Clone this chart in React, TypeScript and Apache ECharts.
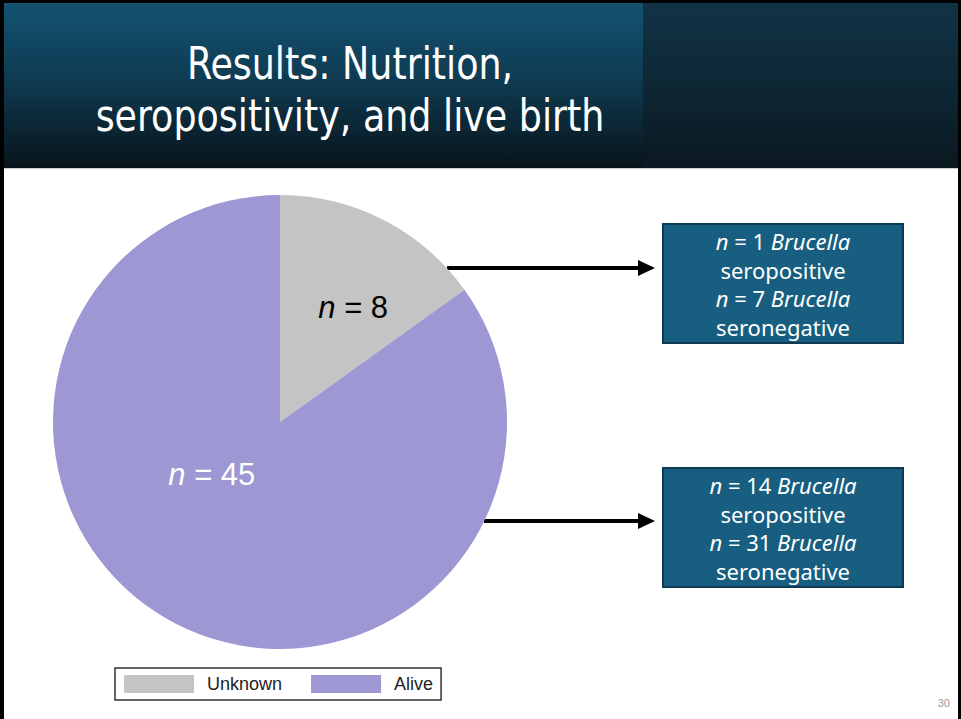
import React, { useEffect, useRef } from "react";
import * as echarts from "echarts";

const categories = ["Unknown", "Alive"];
const counts = [8, 45];
const sliceColors = ["#c4c4c4", "#9d97d4"];
const labelColors = ["#000000", "#ffffff"];
const seropositive = [1, 14];
const seronegative = [7, 31];
const titleLines = ["Results: Nutrition,", "seropositivity, and live birth"];
const pageNumber = "30";

const boxTops = [224, 468];

export default function App() {
  const ref = useRef<HTMLDivElement>(null);
  useEffect(() => {
    const chart = echarts.init(ref.current!, null, { renderer: "svg" });
    const boxFont = "'Noto Sans', 'Open Sans', sans-serif";
    const graphics: any[] = [
      // slide frame
      { type: "rect", shape: { x: 0, y: 0, width: 961, height: 3 }, style: { fill: "#000" } },
      { type: "rect", shape: { x: 0, y: 0, width: 4, height: 719 }, style: { fill: "#000" } },
      { type: "rect", shape: { x: 958, y: 0, width: 3, height: 719 }, style: { fill: "#000" } },
      // header
      {
        type: "rect",
        shape: { x: 4, y: 3, width: 640, height: 165 },
        style: {
          fill: new echarts.graphic.LinearGradient(0, 0, 0, 1, [
            { offset: 0, color: "#135271" },
            { offset: 0.45, color: "#0f3c53" },
            { offset: 1, color: "#08141b" },
          ]),
        },
      },
      {
        type: "rect",
        shape: { x: 643, y: 3, width: 315, height: 165 },
        style: {
          fill: new echarts.graphic.LinearGradient(0, 0, 0, 1, [
            { offset: 0, color: "#113345" },
            { offset: 0.5, color: "#0e2735" },
            { offset: 1, color: "#0a1820" },
          ]),
        },
      },
      { type: "rect", shape: { x: 4, y: 168, width: 954, height: 1 }, style: { fill: "#c8ccd0" } },
      {
        type: "text",
        x: 350,
        y: 89,
        scaleX: 0.9,
        style: {
          text: titleLines.join("\n"),
          fill: "#ffffff",
          font: "45px 'Liberation Sans Narrow', 'DejaVu Sans Condensed', sans-serif",
          lineHeight: 52,
          align: "center",
          verticalAlign: "middle",
        },
      },
      {
        type: "text",
        x: 950,
        y: 703,
        style: {
          text: pageNumber,
          fill: "#9a9a9a",
          font: "11px 'Liberation Sans', sans-serif",
          align: "right",
          verticalAlign: "middle",
        },
      },
      // arrows
      { type: "line", shape: { x1: 447, y1: 268, x2: 640, y2: 268 }, style: { stroke: "#000", lineWidth: 4 } },
      { type: "polygon", shape: { points: [[638, 260], [655, 268], [638, 276]] }, style: { fill: "#000" } },
      { type: "line", shape: { x1: 484, y1: 521, x2: 640, y2: 521 }, style: { stroke: "#000", lineWidth: 4 } },
      { type: "polygon", shape: { points: [[638, 513], [655, 521], [638, 529]] }, style: { fill: "#000" } },
    ];

    categories.forEach((c, i) => {
      const top = boxTops[i];
      graphics.push({
        type: "rect",
        shape: { x: 663, y: top, width: 240, height: 119 },
        style: { fill: "#185e80", stroke: "#0c3a50", lineWidth: 2 },
      });
      graphics.push({
        type: "text",
        x: 783,
        y: top + 60,
        style: {
          text:
            `{i|n} = ${seropositive[i]} {i|Brucella}\nseropositive\n` +
            `{i|n} = ${seronegative[i]} {i|Brucella}\nseronegative`,
          fill: "#ffffff",
          font: `22px ${boxFont}`,
          lineHeight: 28.7,
          align: "center",
          verticalAlign: "middle",
          rich: {
            i: { fontStyle: "italic", fontSize: 22, fontFamily: boxFont, fill: "#ffffff", lineHeight: 28.7 },
          },
        },
      });
    });

    const labelFont = "'Liberation Sans', Arial, sans-serif";
    chart.setOption({
      animation: false,
      backgroundColor: "#ffffff",
      legend: {
        data: categories,
        left: 115,
        top: 668,
        orient: "horizontal",
        icon: "rect",
        itemWidth: 70,
        itemHeight: 18,
        itemGap: 29,
        padding: [7, 8, 7, 9],
        borderColor: "#333",
        borderWidth: 1.5,
        selectedMode: false,
        textStyle: {
          fontSize: 18,
          fontFamily: labelFont,
          color: "#222",
          padding: [0, 0, 0, 8],
        },
      },
      series: [
        {
          type: "pie",
          center: [280, 422],
          radius: 227,
          startAngle: 90,
          clockwise: true,
          silent: true,
          label: {
            show: true,
            position: "inside",
            formatter: "{i|n} = {c}",
            fontSize: 31,
            fontFamily: labelFont,
            rich: {
              i: { fontStyle: "italic", fontSize: 31, fontFamily: labelFont },
            },
          },
          labelLayout: (p: any) => (p.dataIndex === 0 ? { dx: 20, dy: -11 } : { dx: -15, dy: -51 }),
          data: categories.map((name, i) => ({
            name,
            value: counts[i],
            itemStyle: { color: sliceColors[i] },
            label: {
              color: labelColors[i],
              rich: { i: { color: labelColors[i], fontStyle: "italic", fontSize: 31, fontFamily: labelFont } },
            },
          })),
        },
      ],
      graphic: graphics,
    });
    return () => chart.dispose();
  }, []);
  return (
    <div
      ref={ref}
      style={{ position: "fixed", left: 0, top: 0, width: 961, height: 719 }}
    />
  );
}
